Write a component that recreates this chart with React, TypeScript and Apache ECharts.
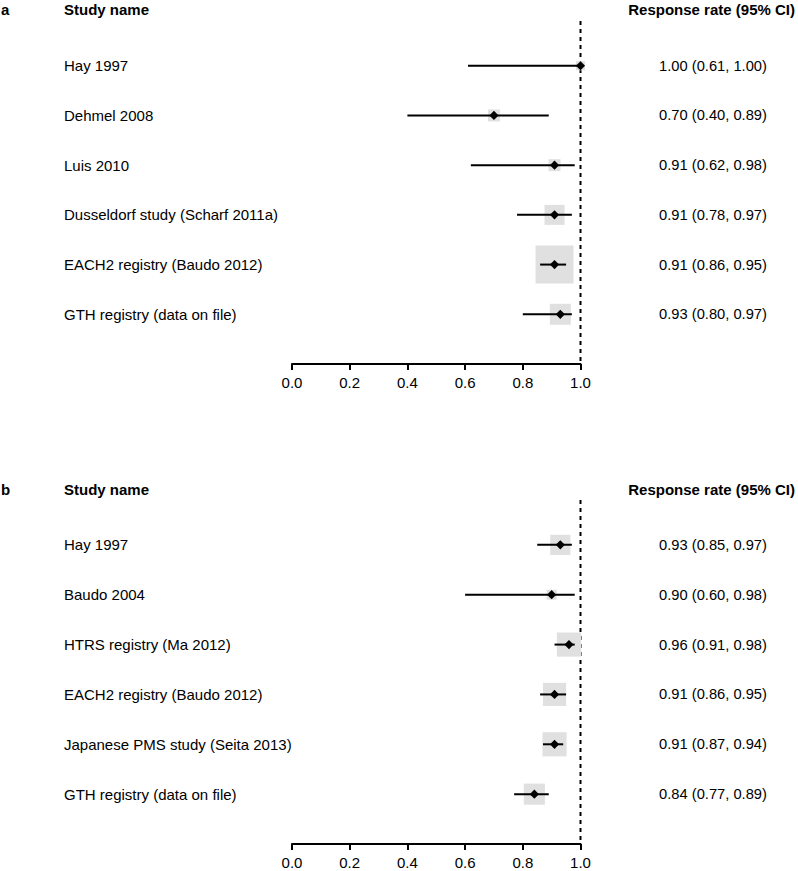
import React, { useEffect, useRef } from "react";
import * as echarts from "echarts";

// Panel a
const studiesA = [
  "Hay 1997",
  "Dehmel 2008",
  "Luis 2010",
  "Dusseldorf study (Scharf 2011a)",
  "EACH2 registry (Baudo 2012)",
  "GTH registry (data on file)",
];
const estA = [1.0, 0.7, 0.91, 0.91, 0.91, 0.93];
const lowA = [0.61, 0.4, 0.62, 0.78, 0.86, 0.8];
const highA = [1.0, 0.89, 0.98, 0.97, 0.95, 0.97];
const weightA = [3.1, 5.4, 5.4, 15.1, 54.4, 16.6];

// Panel b
const studiesB = [
  "Hay 1997",
  "Baudo 2004",
  "HTRS registry (Ma 2012)",
  "EACH2 registry (Baudo 2012)",
  "Japanese PMS study (Seita 2013)",
  "GTH registry (data on file)",
];
const estB = [0.93, 0.9, 0.96, 0.91, 0.91, 0.84];
const lowB = [0.85, 0.6, 0.91, 0.86, 0.87, 0.77];
const highB = [0.97, 0.98, 0.98, 0.95, 0.94, 0.89];
const weightB = [15.3, 3.8, 22.0, 20.2, 22.0, 16.8];

const xTicks = [0.0, 0.2, 0.4, 0.6, 0.8, 1.0];
const panelLabels = ["a", "b"];
const colHeaders = ["Study name", "Response rate (95% CI)"];

const FONT = "Liberation Sans, Arial, Helvetica, sans-serif";

function makeRender(names: string[], est: number[], lo: number[], hi: number[]) {
  return (params: any, api: any) => {
    const i = params.dataIndex;
    const e = api.value(0);
    const l = api.value(1);
    const h = api.value(2);
    const w = api.value(3);
    const row = api.value(4);
    const [cx, cy] = api.coord([e, row]);
    const [lx] = api.coord([l, row]);
    const [hx] = api.coord([h, row]);
    const side = 5.15 * Math.sqrt(w);
    const d = 4.6;
    const ciText = `${est[i].toFixed(2)} (${lo[i].toFixed(2)}, ${hi[i].toFixed(2)})`;
    return {
      type: "group",
      children: [
        {
          type: "rect",
          shape: { x: cx - side / 2, y: cy - side / 2, width: side, height: side },
          style: { fill: "#e0e0e0" },
        },
        {
          type: "line",
          shape: { x1: lx, y1: cy, x2: hx, y2: cy },
          style: { stroke: "#000", lineWidth: 2 },
        },
        {
          type: "polygon",
          shape: {
            points: [
              [cx, cy - d],
              [cx + d, cy],
              [cx, cy + d],
              [cx - d, cy],
            ],
          },
          style: { fill: "#000" },
        },
        {
          type: "text",
          style: {
            text: names[i],
            x: 64,
            y: cy,
            textAlign: "left",
            textVerticalAlign: "middle",
            fill: "#000",
            fontSize: 15,
            fontFamily: FONT,
          },
        },
        {
          type: "text",
          style: {
            text: ciText,
            x: 713,
            y: cy,
            textAlign: "center",
            textVerticalAlign: "middle",
            fill: "#000",
            fontSize: 14.7,
            fontFamily: FONT,
          },
        },
      ],
    };
  };
}

export default function App() {
  const ref = useRef<HTMLDivElement>(null);
  useEffect(() => {
    if (!ref.current) return;
    const chart = echarts.init(ref.current, undefined, { renderer: "svg" });

    const panels = [
      { names: studiesA, est: estA, lo: lowA, hi: highA, w: weightA, top: 21, height: 343 },
      { names: studiesB, est: estB, lo: lowB, hi: highB, w: weightB, top: 500, height: 344 },
    ];

    const grids = panels.map((p) => ({ left: 292, top: p.top, width: 288.5, height: p.height }));
    const xAxes = panels.map((_, k) => ({
      type: "value",
      gridIndex: k,
      min: 0,
      max: 1,
      interval: 0.2,
      splitLine: { show: false },
      axisLine: { show: true, onZero: false, lineStyle: { color: "#000", width: 2 } },
      axisTick: { show: true, inside: false, length: 6, lineStyle: { color: "#000", width: 2 } },
      axisLabel: {
        color: "#000",
        fontSize: 15,
        fontFamily: FONT,
        margin: 11,
        formatter: (v: number) => (xTicks.some((t) => Math.abs(t - v) < 1e-9) ? v.toFixed(1) : ""),
      },
    }));
    const yAxes = panels.map((_, k) => ({
      type: "value",
      gridIndex: k,
      min: -0.9,
      max: 6,
      inverse: true,
      show: false,
    }));

    const series: any[] = [];
    panels.forEach((p, k) => {
      series.push({
        type: "line",
        xAxisIndex: k,
        yAxisIndex: k,
        data: [
          [1, -0.9],
          [1, 6],
        ],
        symbol: "none",
        z: 1,
        lineStyle: { color: "#000", width: 2, type: [4, 4] },
        silent: true,
      });
      series.push({
        type: "custom",
        xAxisIndex: k,
        yAxisIndex: k,
        clip: false,
        z: 5,
        renderItem: makeRender(p.names, p.est, p.lo, p.hi),
        data: p.names.map((_, i) => [p.est[i], p.lo[i], p.hi[i], p.w[i], i]),
      });
    });

    const graphic: any[] = [];
    [9, 489].forEach((y, k) => {
      graphic.push({
        type: "text",
        style: {
          text: panelLabels[k],
          x: 1,
          y,
          textVerticalAlign: "middle",
          fill: "#000",
          fontSize: 15,
          fontWeight: "bold",
          fontFamily: FONT,
        },
      });
      graphic.push({
        type: "text",
        style: {
          text: colHeaders[0],
          x: 64,
          y,
          textVerticalAlign: "middle",
          fill: "#000",
          fontSize: 15,
          fontWeight: "bold",
          fontFamily: FONT,
        },
      });
      graphic.push({
        type: "text",
        style: {
          text: colHeaders[1],
          x: 795,
          y,
          textAlign: "right",
          textVerticalAlign: "middle",
          fill: "#000",
          fontSize: 15,
          fontWeight: "bold",
          fontFamily: FONT,
        },
      });
    });

    chart.setOption({
      animation: false,
      backgroundColor: "#fff",
      grid: grids,
      xAxis: xAxes,
      yAxis: yAxes,
      series,
      graphic,
    });
    return () => chart.dispose();
  }, []);
  return (
    <div
      ref={ref}
      style={{ position: "absolute", left: 0, top: 0, width: 798, height: 871 }}
    />
  );
}
